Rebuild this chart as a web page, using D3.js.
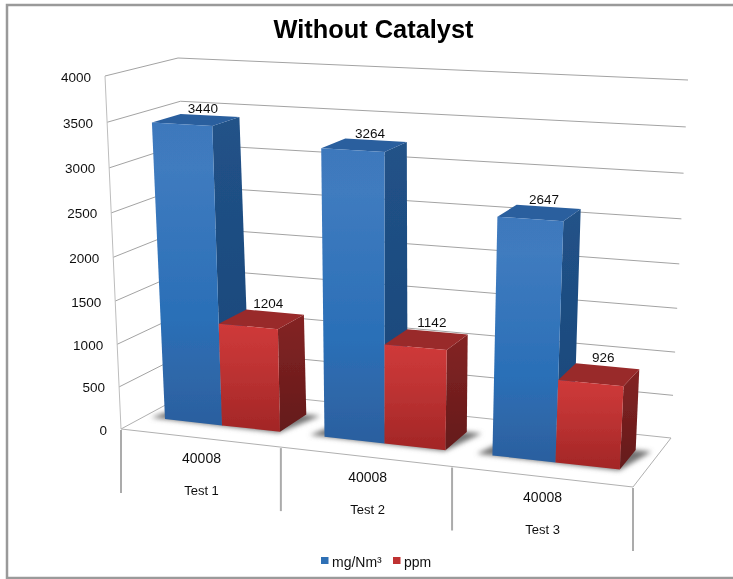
<!DOCTYPE html>
<html>
<head>
<meta charset="utf-8">
<script src="https://cdn.jsdelivr.net/npm/d3@7"></script>
<style>
body { margin: 0; background: #fff; }
svg { display: block; }
text { font-family: "Liberation Sans", Arial, sans-serif; fill: #111; }
</style>
</head>
<body>
<svg width="733" height="579"></svg>
<script>
var categories = ['Test 1', 'Test 2', 'Test 3'];
var subLabels = ['40008', '40008', '40008'];
var seriesNames = ['mg/Nm³', 'ppm'];
var mgValues = [3440, 3264, 2647];
var ppmValues = [1204, 1142, 926];
var yTicks = [0, 500, 1000, 1500, 2000, 2500, 3000, 3500, 4000];

var root = d3.select('svg');
var defs = root.append('defs');

// box corners as they land on the page
var FLB = [121, 429], FRB = [633, 487], BLB = [197, 388], BRB = [671, 438];
var FLT = [105, 76], FRT = [652, 102], BLT = [178, 58], BRT = [688, 80];

var xBand = d3.scaleBand().domain(categories).range([0, 1]).paddingInner(0.274).paddingOuter(0.137);
var serBand = d3.scaleBand().domain(seriesNames).range([0, xBand.bandwidth()]);
var yScale = d3.scaleLinear().domain([0, 4000]).range([0, 1]);
var barFront = 0.3, barBack = 0.7;

function mix(a, b, t) { return [a[0] + (b[0] - a[0]) * t, a[1] + (b[1] - a[1]) * t]; }

// u across, val up, w into the page. u and val get squeezed a bit for the perspective
function project(u, val, w) {
    var uu = u / (1.08 - 0.08 * u);
    var f = yScale(val);
    var ff = f / (1.056 - 0.056 * f);
    var bottom = mix(mix(FLB, FRB, uu), mix(BLB, BRB, uu), w);
    var top = mix(mix(FLT, FRT, uu), mix(BLT, BRT, uu), w);
    return mix(bottom, top, ff);
}
function pathOf(pts) { return 'M' + pts.map(function (p) { return p[0].toFixed(1) + ',' + p[1].toFixed(1); }).join('L') + 'Z'; }

function gradient(id, stops) {
    var g = defs.append('linearGradient').attr('id', id).attr('x1', 0).attr('y1', 0).attr('x2', 0).attr('y2', 1);
    stops.forEach(function (s) { g.append('stop').attr('offset', s[0]).attr('stop-color', s[1]); });
}
gradient('blueFront', [[0, '#3e78bc'], [0.15, '#3f7bbf'], [0.65, '#2a6fb7'], [0.82, '#2f68aa'], [1, '#2a5f9f']]);
gradient('blueSide', [[0, '#215288'], [1, '#1a4678']]);
gradient('redFront', [[0, '#cf3a3a'], [0.35, '#c13434'], [1, '#a22626']]);
gradient('redSide', [[0, '#842424'], [1, '#641a1a']]);
defs.append('filter').attr('id', 'soft').append('feGaussianBlur').attr('stdDeviation', 0.4);
defs.append('filter').attr('id', 'shadow').attr('x', '-20%').attr('y', '-50%').attr('width', '140%').attr('height', '200%')
    .append('feGaussianBlur').attr('stdDeviation', 2.6);

// the reference is a slightly soft picture, so everything goes through a light blur
var svg = root.append('g').attr('filter', 'url(#soft)');
svg.append('rect').attr('width', 733).attr('height', 579).attr('fill', '#fff');

// outer frame
svg.append('rect').attr('x', 7).attr('y', 5).attr('width', 740).attr('height', 573)
    .attr('fill', 'none').attr('stroke', '#9a9a9a').attr('stroke-width', 2.5);

svg.append('text').attr('x', 373.5).attr('y', 38).attr('text-anchor', 'middle')
    .style('font-size', '25.4px').style('font-weight', 'bold').style('fill', '#000').text('Without Catalyst');

// floor
svg.append('path').attr('d', pathOf([FLB, FRB, BRB, BLB])).attr('fill', '#fff')
    .attr('stroke', '#b0b0b0').attr('stroke-width', 1);

// grid on the side wall and the back wall
var grid = svg.append('g').attr('fill', 'none').attr('stroke', '#a3a3a3').attr('stroke-width', 1);
yTicks.forEach(function (t) {
    if (t > 0) {
        grid.append('path').attr('d', d3.line()([project(0, t, 0), project(0, t, 1), project(1, t, 1)]));
    }
});
grid.append('line').attr('x1', FLB[0]).attr('y1', FLB[1]).attr('x2', FLT[0]).attr('y2', FLT[1]).attr('stroke', '#bdbdbd');

// y axis labels
svg.append('g').selectAll('text').data(yTicks).join('text')
    .attr('x', function (d) { return project(0, d, 0)[0] - 14; })
    .attr('y', function (d) { return project(0, d, 0)[1] + 5.5; })
    .attr('text-anchor', 'end').style('font-size', '13.5px')
    .text(function (d) { return d; });

// category axis, the long dividers between the groups
var dividers = [0, 0.329, 0.664, 1];
svg.append('g').selectAll('line').data(dividers).join('line')
    .attr('x1', function (d) { return project(d, 0, 0)[0]; })
    .attr('y1', function (d) { return project(d, 0, 0)[1] + 1; })
    .attr('x2', function (d) { return project(d, 0, 0)[0]; })
    .attr('y2', function (d) { return project(d, 0, 0)[1] + 64; })
    .attr('stroke', '#ababab').attr('stroke-width', 2);

categories.forEach(function (c, i) {
    var p = project(xBand(c) + xBand.bandwidth() / 2, 0, 0);
    svg.append('text').attr('x', p[0] + 0.5).attr('y', p[1] + 25).attr('text-anchor', 'middle')
        .style('font-size', '14px').text(subLabels[i]);
    svg.append('text').attr('x', p[0] + 0.5).attr('y', p[1] + 57).attr('text-anchor', 'middle')
        .style('font-size', '13px').text(c);
});

// one bar: front, side, top
var seriesValues = [mgValues, ppmValues];
var seriesStyle = [
    { front: 'url(#blueFront)', side: 'url(#blueSide)', top: '#2b5f9e' },
    { front: 'url(#redFront)', side: 'url(#redSide)', top: '#992a2a' }
];
var bars = [];
categories.forEach(function (c, i) {
    seriesNames.forEach(function (s, j) {
        bars.push({ cat: c, ser: s, j: j, value: seriesValues[j][i] });
    });
});
function barLeft(d) { return xBand(d.cat) + serBand(d.ser); }
function barRight(d) { return barLeft(d) + serBand.bandwidth(); }

// shadows first so that no bar gets covered by a neighbour's
svg.append('g').attr('filter', 'url(#shadow)').selectAll('path').data(categories).join('path')
    .attr('fill', '#757575')
    .attr('d', function (c) {
        var a = xBand(c), b = a + xBand.bandwidth(), s = 0.03;
        return pathOf([project(a - s, 0, barFront), project(b, 0, barFront - 0.02), project(b + s, 0, barBack), project(a, 0, barBack)]);
    });

var barG = svg.append('g');
bars.forEach(function (d) {
    var l = barLeft(d), r = barRight(d), v = d.value, st = seriesStyle[d.j];
    var g = barG.append('g');
    g.append('path').attr('fill', st.side)
        .attr('d', pathOf([project(r, 0, barFront), project(r, 0, barBack), project(r, v, barBack), project(r, v, barFront)]));
    g.append('path').attr('fill', st.top)
        .attr('d', pathOf([project(l, v, barFront), project(r, v, barFront), project(r, v, barBack), project(l, v, barBack)]));
    g.append('path').attr('fill', st.front)
        .attr('d', pathOf([project(l, 0, barFront), project(r, 0, barFront), project(r, v, barFront), project(l, v, barFront)]));
    // short bars carry their label a little higher
    var t = project((l + r) / 2, v, 0.6);
    g.append('text').attr('x', t[0]).attr('y', t[1] - 4 - 6 * (1 - yScale(v))).attr('text-anchor', 'middle')
        .style('font-size', '13.5px').text(v);
});

// legend
var legend = svg.append('g');
var legendX = [321, 393];
seriesNames.forEach(function (s, j) {
    legend.append('rect').attr('x', legendX[j]).attr('y', 557).attr('width', 7.5).attr('height', 7)
        .attr('fill', j === 0 ? '#2f6fb5' : '#bf3232');
    legend.append('text').attr('x', legendX[j] + 11).attr('y', 567).style('font-size', '14px').text(s);
});
</script>
</body>
</html>
